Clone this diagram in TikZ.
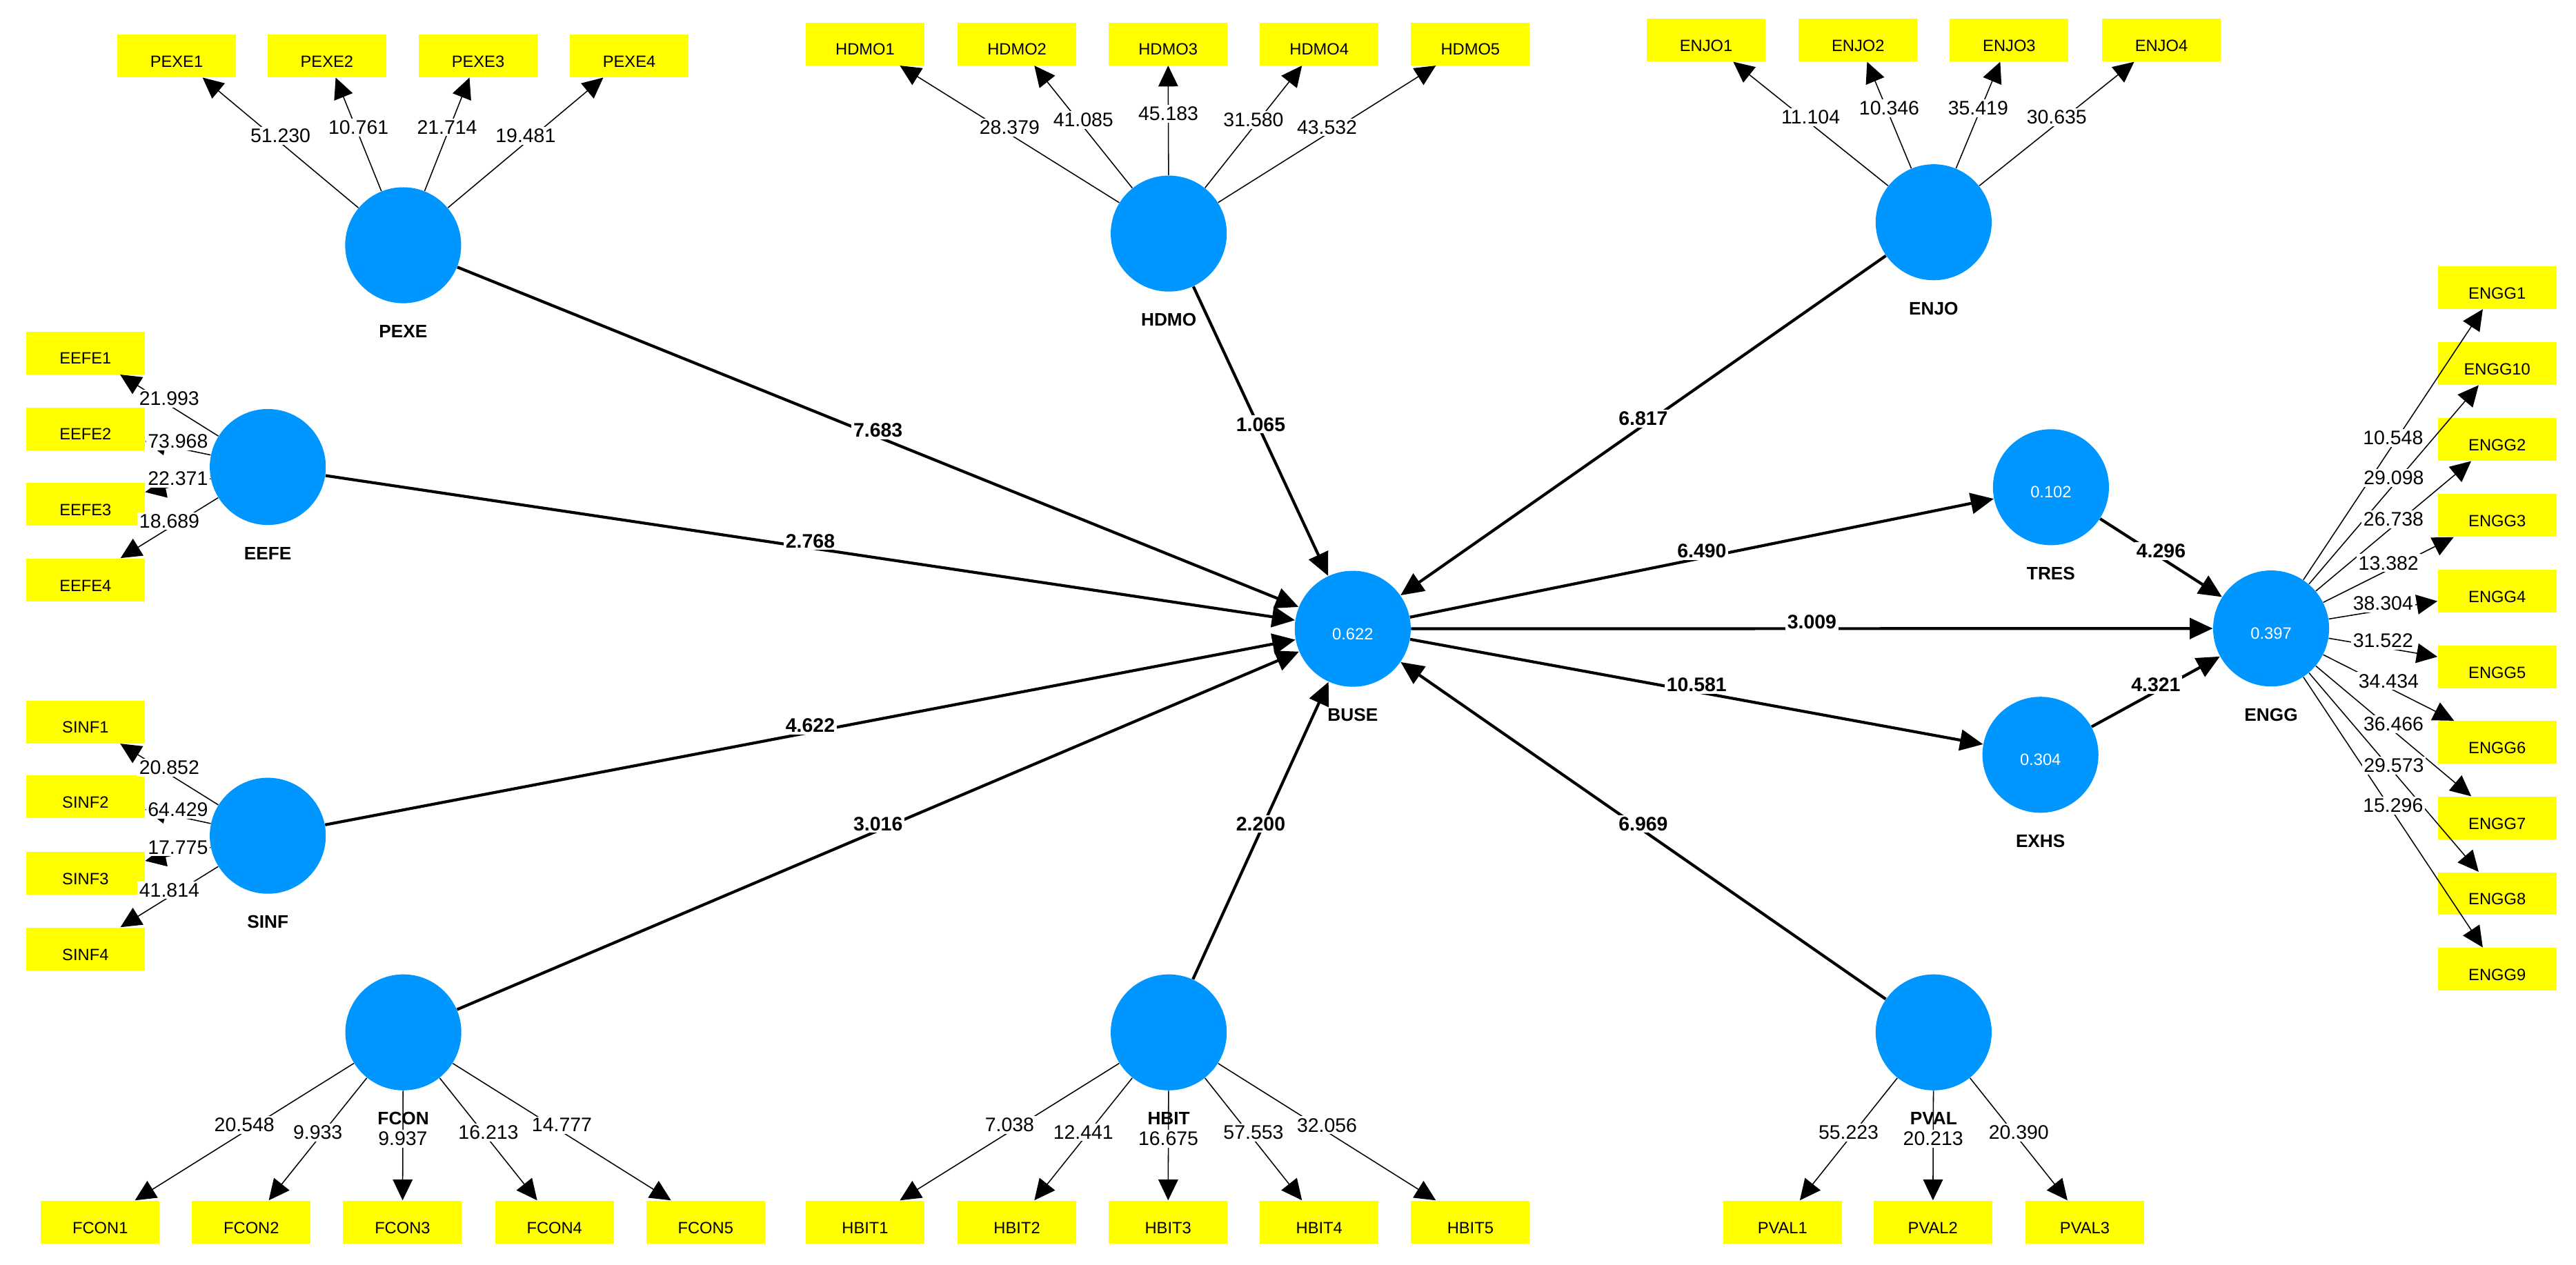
\documentclass[tikz,border=0pt]{standalone}
\usepackage{fontspec}
\setmainfont{Liberation Sans}
\usetikzlibrary{arrows.meta}
\definecolor{plsblue}{RGB}{0,150,255}
\definecolor{plsyellow}{RGB}{255,255,0}
\begin{document}
\begin{tikzpicture}[x=0.03cm,y=-0.03cm,
  lat/.style={circle, fill=plsblue, minimum size=2.118cm, inner sep=0pt, text=white,
    font=\fontsize{8.5}{10}\selectfont, text height=0.39cm, text depth=0pt},
  ind/.style={rectangle, fill=plsyellow, minimum width=2.167cm, minimum height=0.78cm,
    inner sep=0pt, text height=0.596cm, text depth=0.184cm, font=\fontsize{8.5}{10}\selectfont},
  latlab/.style={inner sep=0pt, font=\bfseries\fontsize{9.4}{11}\selectfont},
  loadarr/.style={draw, line width=0.55pt, -{Triangle[length=0.38cm,width=0.36cm]}},
  pcoef/.style={draw, line width=1.5pt, -{Triangle[length=0.42cm,width=0.38cm]}},
  loadlab/.style={midway, fill=white, inner sep=1pt, anchor=base, font=\fontsize{10.2}{12}\selectfont},
  pathlab/.style={midway, fill=white, inner sep=1pt, anchor=base, font=\bfseries\fontsize{10.2}{12}\selectfont}
]
\useasboundingbox (0,0) rectangle (1568,770);
\fill[white] (0,0) rectangle (1568,770);

% latent variables
\node[lat] (PEXE) at (245.4,149.3) {};
\node[lat] (HDMO) at (711.4,142.2) {};
\node[lat] (ENJO) at (1177,135.3) {};
\node[lat] (EEFE) at (163,284.3) {};
\node[lat] (SINF) at (163,508.8) {};
\node[lat] (FCON) at (245.5,628.5) {};
\node[lat] (HBIT) at (711.4,628.5) {};
\node[lat] (PVAL) at (1177,628.5) {};
\node[lat] (BUSE) at (823.4,382.8) {0.622};
\node[lat] (TRES) at (1248.4,296.6) {0.102};
\node[lat] (EXHS) at (1242,459.5) {0.304};
\node[lat] (ENGG) at (1382.4,382.6) {0.397};

% latent names
\foreach \nm in {PEXE,HDMO,ENJO,EEFE,SINF,FCON,HBIT,PVAL,BUSE,TRES,EXHS,ENGG}
  \node[latlab] (\nm-lab) at ([yshift=-1.575cm]\nm.center) {\nm};

% indicators
\foreach \nm/\xx/\yy in {PEXE1/107.5/34, PEXE2/199/34, PEXE3/291/34, PEXE4/383/34,
  HDMO1/526.6/26.7, HDMO2/619/26.7, HDMO3/711/26.7, HDMO4/803/26.7, HDMO5/895/26.7,
  ENJO1/1038.5/24.4, ENJO2/1131/24.4, ENJO3/1223/24.4, ENJO4/1315.6/24.4,
  EEFE1/52/214.8, EEFE2/52/261, EEFE3/52/307, EEFE4/52/353,
  SINF1/52/439.5, SINF2/52/485, SINF3/52/531.5, SINF4/52/577.7,
  FCON1/61/744, FCON2/153/744, FCON3/245/744, FCON4/337.5/744, FCON5/429.5/744,
  HBIT1/526.6/744, HBIT2/619/744, HBIT3/711/744, HBIT4/803/744, HBIT5/895/744,
  PVAL1/1085/744, PVAL2/1176.5/744, PVAL3/1269/744,
  ENGG1/1520/175, ENGG10/1520/221.3, ENGG2/1520/267.5, ENGG3/1520/313.8, ENGG4/1520/360,
  ENGG5/1520/406, ENGG6/1520/452, ENGG7/1520/498, ENGG8/1520/544, ENGG9/1520/590}
  \node[ind] (\nm) at (\xx,\yy) {\nm};

% loading arrows
\def\loadlist{PEXE/PEXE1/51.230, PEXE/PEXE2/10.761, PEXE/PEXE3/21.714, PEXE/PEXE4/19.481,
  HDMO/HDMO1/28.379, HDMO/HDMO2/41.085, HDMO/HDMO3/45.183, HDMO/HDMO4/31.580, HDMO/HDMO5/43.532,
  ENJO/ENJO1/11.104, ENJO/ENJO2/10.346, ENJO/ENJO3/35.419, ENJO/ENJO4/30.635,
  EEFE/EEFE1/21.993, EEFE/EEFE2/73.968, EEFE/EEFE3/22.371, EEFE/EEFE4/18.689,
  SINF/SINF1/20.852, SINF/SINF2/64.429, SINF/SINF3/17.775, SINF/SINF4/41.814,
  FCON/FCON1/20.548, FCON/FCON2/9.933, FCON/FCON3/9.937, FCON/FCON4/16.213, FCON/FCON5/14.777,
  HBIT/HBIT1/7.038, HBIT/HBIT2/12.441, HBIT/HBIT3/16.675, HBIT/HBIT4/57.553, HBIT/HBIT5/32.056,
  PVAL/PVAL1/55.223, PVAL/PVAL2/20.213, PVAL/PVAL3/20.390,
  ENGG/ENGG1/10.548, ENGG/ENGG10/29.098, ENGG/ENGG2/26.738, ENGG/ENGG3/13.382, ENGG/ENGG4/38.304,
  ENGG/ENGG5/31.522, ENGG/ENGG6/34.434, ENGG/ENGG7/36.466, ENGG/ENGG8/29.573, ENGG/ENGG9/15.296}
\def\pathlist{PEXE/BUSE/7.683, EEFE/BUSE/2.768, SINF/BUSE/4.622, FCON/BUSE/3.016,
  HDMO/BUSE/1.065, HBIT/BUSE/2.200, ENJO/BUSE/6.817, PVAL/BUSE/6.969,
  BUSE/TRES/6.490, BUSE/ENGG/3.009, BUSE/EXHS/10.581, TRES/ENGG/4.296, EXHS/ENGG/4.321}

\foreach \src/\dst/\val in \loadlist
  \draw[loadarr] (\src) -- (\dst);
\foreach \src/\dst/\val in \pathlist
  \draw[pcoef] (\src) -- (\dst);

% labels on top
\foreach \src/\dst/\val in \loadlist
  \path (\src) -- node[loadlab] {\val} (\dst);
\foreach \src/\dst/\val in \pathlist
  \path (\src) -- node[pathlab] {\val} (\dst);
\end{tikzpicture}
\end{document}
